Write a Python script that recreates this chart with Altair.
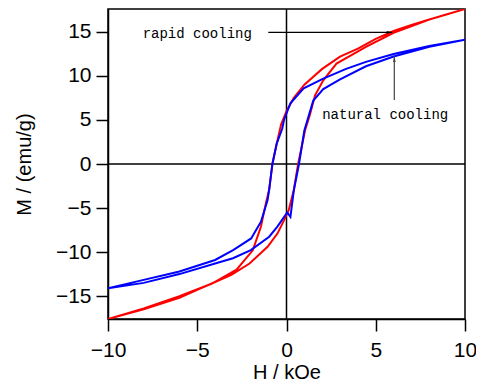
import altair as alt
import pandas as pd

# Rapid cooling loop: descending branch (H from +10 to -10), then ascending branch
rapid_desc_H = [10, 9, 8, 7, 6, 5, 4, 3, 2, 1, 0.4, 0, -0.3, -0.55, -0.79, -0.97, -1.16, -1.43, -1.89, -2.8, -4.2, -6, -8, -10]
rapid_desc_M = [17.6, 17.0, 16.4, 15.8, 15.1, 14.2, 13.1, 12.2, 10.8, 9.0, 7.5, 6.0, 4.5, 2.3, 0.0, -2.9, -4.5, -7.1, -9.8, -12.0, -13.6, -15.0, -16.4, -17.6]
rapid_asc_H = [-10, -8, -6, -5, -4, -3.09, -2.07, -1.06, -0.51, -0.14, 0.13, 0.41, 0.65, 1.05, 1.3, 1.6, 2.06, 2.8, 4.45, 6, 8, 10]
rapid_asc_M = [-17.6, -16.5, -15.2, -14.3, -13.4, -12.6, -11.3, -9.4, -7.9, -6.4, -5.2, -2.95, 0.0, 3.9, 5.5, 7.8, 9.5, 11.4, 13.3, 14.9, 16.4, 17.6]

# Natural cooling loop
natural_desc_H = [10, 8, 6, 4.45, 3.34, 2.06, 0.96, 0.22, -0.14, -0.24, -0.55, -0.79, -0.97, -1.06, -1.43, -1.98, -2.99, -4.0, -6.0, -8.3, -10]
natural_desc_M = [14.1, 13.4, 12.5, 11.6, 10.8, 9.7, 8.6, 6.9, 5.0, 4.0, 2.3, 0.0, -2.9, -4.1, -6.55, -8.45, -9.77, -10.9, -12.2, -13.3, -14.1]
natural_asc_H = [-10, -8, -6, -4, -3, -2, -0.97, -0.51, 0.04, 0.22, 0.41, 0.7, 1.0, 1.5, 2.06, 3.0, 4.45, 6, 8, 10]
natural_asc_M = [-14.1, -13.5, -12.5, -11.3, -10.7, -9.77, -8.26, -7.1, -5.5, -6.0, -3.0, 0.0, 3.8, 7.2, 8.5, 9.6, 11.1, 12.2, 13.3, 14.1]

x_ticks = [-10, -5, 0, 5, 10]
y_ticks = [-15, -10, -5, 0, 5, 10, 15]

# Annotations
label_texts = ["rapid cooling", "natural cooling"]
label_H = [-5.0, 5.53]
label_M = [14.8, 5.6]
arrow_H = [-1.02, 6.04]
arrow_M = [14.95, 7.27]
arrow_H2 = [5.92, 6.04]
arrow_M2 = [14.95, 12.2]
arrow_colors = ["#000000", "#444444"]


def loop(hd, md, ha, ma, name):
    H = hd + ha
    M = md + ma
    return pd.DataFrame({"H": H, "M": M, "i": list(range(len(H))), "s": name})


rapid = loop(rapid_desc_H, rapid_desc_M, rapid_asc_H, rapid_asc_M, "rapid cooling")
natural = loop(natural_desc_H, natural_desc_M, natural_asc_H, natural_asc_M, "natural cooling")

xs = alt.Scale(domain=[-10, 10], nice=False)
ys = alt.Scale(domain=[-17.6, 17.6], nice=False)

xax = alt.Axis(values=x_ticks, title="H / kOe", grid=False, tickSize=12, tickWidth=1.5,
               domainWidth=1.5, domainColor="black", tickColor="black",
               labelFontSize=21, titleFontSize=20, labelPadding=8, titlePadding=2,
               labelColor="black", titleColor="black", titleFontWeight="normal",
               labelFont="Liberation Sans", titleFont="Liberation Sans", labelFlush=False)
yax = alt.Axis(values=y_ticks, title="M / (emu/g)", grid=False, tickSize=12, tickWidth=1.5,
               domainWidth=1.5, domainColor="black", tickColor="black",
               labelFontSize=21, titleFontSize=20, labelPadding=5, titlePadding=21,
               labelColor="black", titleColor="black", titleFontWeight="normal",
               labelFont="Liberation Sans", titleFont="Liberation Sans", labelFlush=False)

zero_v = alt.Chart(pd.DataFrame({"z": [0]})).mark_rule(color="black", strokeWidth=1.5).encode(
    x=alt.X("z:Q", scale=xs, axis=xax))
zero_h = alt.Chart(pd.DataFrame({"z": [0]})).mark_rule(color="black", strokeWidth=1.5).encode(
    y=alt.Y("z:Q", scale=ys, axis=yax))

def line(df, color):
    return alt.Chart(df).mark_line(color=color, strokeWidth=2, clip=True).encode(
        x=alt.X("H:Q", scale=xs, axis=xax),
        y=alt.Y("M:Q", scale=ys, axis=yax),
        order="i:Q")

red = line(rapid, "#ff0000")
blue = line(natural, "#0000ff")

ann = pd.DataFrame({"t": label_texts, "H": label_H, "M": label_M})
texts = alt.Chart(ann).mark_text(font="Liberation Mono", fontSize=14, color="black").encode(
    x=alt.X("H:Q", scale=xs), y=alt.Y("M:Q", scale=ys), text="t:N")

arr = pd.DataFrame({"H": arrow_H, "M": arrow_M, "H2": arrow_H2, "M2": arrow_M2, "c": arrow_colors})
shafts = alt.Chart(arr).mark_rule(strokeWidth=1.2).encode(
    x=alt.X("H:Q", scale=xs), y=alt.Y("M:Q", scale=ys),
    x2="H2:Q", y2="M2:Q", color=alt.Color("c:N", scale=None))

head_r = alt.Chart(arr.iloc[[0]]).mark_point(shape="M 0 0 L -2 -0.5 L -2 0.5 Z", size=30,
                                               filled=True, opacity=1, color="black").encode(
    x=alt.X("H2:Q", scale=xs), y=alt.Y("M2:Q", scale=ys))
head_u = alt.Chart(arr.iloc[[1]]).mark_point(shape="M 0 0 L -0.5 2 L 0.5 2 Z", size=30,
                                               filled=True, opacity=1, color="#444444").encode(
    x=alt.X("H2:Q", scale=xs), y=alt.Y("M2:Q", scale=ys))

chart = alt.layer(zero_v, zero_h, red, blue, shafts, head_r, head_u, texts).properties(
    width=357, height=310,
    autosize=alt.AutoSizeParams(type="none"),
    padding={"left": 100, "top": 1, "right": 11, "bottom": 63},
).configure_view(stroke="black", strokeWidth=1.5)

chart.save("out.html", embed_options={"renderer": "svg", "actions": False})
